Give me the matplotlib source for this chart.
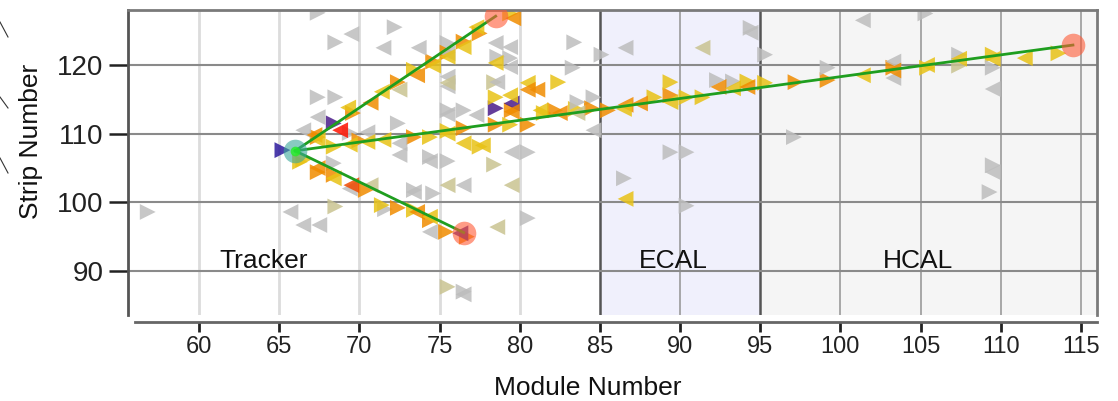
import matplotlib
matplotlib.use('Agg')
import matplotlib.pyplot as plt
from matplotlib.lines import Line2D

plt.rcParams['font.family'] = ['Liberation Sans', 'DejaVu Sans']

# hit colour codes
palette = {
    'g': '#bdbdbd',  # unassigned hits
    'o': '#c9c391',
    'y': '#e8c216',
    'n': '#f08c00',
    'r': '#f04a00',
    'R': '#ff1200',
    'p': '#4a1c8a',
    'b': '#2c1a9c',
}

# hits read out on the right-hand side of a module (drawn as ▶)
right_x = [67.4, 68.5, 72.2, 67.4, 68.5, 69.4, 75.5, 78.6, 79.4, 72.4, 75.5, 76.5, 74.4, 75.5,
           80.5, 80.5, 74.6, 68.4, 73.4, 71.6, 56.8, 76.5, 83.4, 83.3, 84.6,
           75.5, 68.5, 78.4, 78.4, 107.4,
           65.2, 68.4, 78.5,
           67.4, 69.6, 72.4, 73.4, 74.6, 75.5, 76.5, 77.5, 79.4, 78.5,
           66.5, 68.4, 70.0, 73.4, 74.4, 75.5, 76.5, 77.5, 78.5, 79.4, 80.5, 79.5, 81.5, 82.2,
           83.5, 84.5, 82.4, 85.5, 88.4, 89.4, 89.4, 90.4, 91.4, 92.3, 93.3, 94.2, 95.3,
           97.2, 99.2, 99.2, 103.3, 105.4, 107.4, 109.5, 109.5, 113.6, 83.6,
           66.3, 67.4, 68.4, 70.4, 71.4, 72.4, 73.4, 74.4, 75.4, 76.7,
           85.1, 94.4, 95.3, 89.4, 90.4, 86.5, 90.4, 97.1, 105.3, 109.5, 109.3]
right_y = [127.6, 123.3, 125.5, 115.3, 115.3, 110.1, 123.2, 121.2, 121.0, 111.5, 113.4, 113.4, 106.6, 106.0,
           107.3, 97.7, 101.3, 105.7, 101.8, 99.0, 98.6, 87.0, 123.3, 119.6, 115.3,
           87.7, 99.4, 105.5, 117.5, 119.9,
           107.6, 111.5, 113.7,
           109.5, 113.0, 117.5, 119.3, 120.5, 121.8, 123.4, 124.6, 127.5, 115.3,
           106.2, 108.1, 109.0, 109.5, 109.5, 110.4, 110.8, 108.1, 111.3, 111.3, 111.3, 113.4, 113.0, 113.4,
           113.6, 113.7, 117.5, 113.4, 115.3, 115.6, 117.5, 115.3, 115.3, 117.8, 117.6, 117.6, 117.4,
           117.5, 117.8, 119.6, 119.6, 119.6, 121.5, 121.5, 119.6, 121.7, 114.6,
           105.9, 104.4, 104.0, 101.8, 99.6, 99.2, 98.9, 97.4, 95.7, 95.0,
           121.5, 125.4, 121.5, 107.3, 107.3, 103.5, 99.5, 109.5, 127.5, 105.4, 101.5]
right_c = list('gggggggggggggg' 'ggggggggggg'
               'ooooo'
               'bpp'
               'nnnynnnnyy'
               'yynnyynynynnyn'
               'ynynynyyyggyy'
               'nngnygygyg'
               'ynnnynynnn'
               'ggggggggggg')

# hits read out on the left-hand side of a module (drawn as ◀)
left_x = [69.5, 71.5, 67.4, 66.5, 70.5, 73.7, 75.5, 75.5, 75.5, 78.6, 78.5, 79.4, 79.4, 72.5,
          77.3, 75.5, 74.4, 79.5, 76.5, 73.4, 65.7, 66.5, 67.5, 69.4, 74.4, 76.5, 86.6, 84.6,
          101.4, 103.3, 103.3, 109.5, 109.5, 94.4, 72.5,
          72.5, 75.5, 75.5, 79.5, 78.6, 70.7, 91.4, 83.6,
          68.8, 69.5, 79.5, 76.3,
          67.2, 69.3, 70.7, 71.4, 73.6, 74.6, 75.5, 76.5, 77.3, 79.6, 78.5, 79.4, 80.5, 80.5,
          67.4, 69.4, 70.5, 71.5, 75.5, 76.5, 77.7, 79.5, 81.1, 81.3, 82.5, 86.6, 87.5, 86.5,
          89.4, 92.4, 93.3, 94.2, 101.4, 105.4, 107.4, 109.5, 111.5, 103.3,
          67.4, 68.4, 73.6, 74.4, 86.6]
left_y = [124.5, 122.5, 112.4, 110.5, 110.2, 122.5, 121.7, 118.3, 116.9, 117.5, 123.2, 122.6, 119.7, 108.6,
          112.7, 112.8, 106.0, 107.3, 102.5, 101.5, 98.6, 96.7, 96.7, 102.0, 95.7, 86.6, 122.5, 110.5,
          126.5, 120.5, 118.1, 104.4, 116.5, 124.7, 106.9,
          116.4, 117.4, 102.5, 102.5, 96.4, 102.5, 122.5, 113.0,
          110.5, 102.5, 114.4, 95.5,
          109.8, 113.8, 114.5, 116.1, 118.5, 119.9, 121.2, 122.6, 125.5, 126.8, 120.3, 115.6, 117.4, 116.4,
          109.1, 108.4, 108.8, 109.1, 110.0, 108.6, 108.3, 113.2, 116.4, 113.4, 113.0, 114.2, 114.4, 113.6,
          114.6, 116.8, 116.6, 116.8, 118.5, 120.0, 120.9, 120.9, 121.0, 119.2,
          105.0, 103.5, 98.6, 97.9, 100.5]
left_c = list('gggggggggggggg' 'gggggggggggggg'
              'ggggggg'
              'oooooooo'
              'Rrpp'
              'nynynyyyynyyyn'
              'yyyyyyynnynnny'
              'ynynyyyyyn'
              'nynyy')

# reconstructed tracks: common vertex and three end points
vertex = (66.0, 107.5)
end_x = [78.5, 76.5, 114.5]
end_y = [127.1, 95.6, 122.9]

# detector regions
ecal = (85, 95)
hcal = (95, 116)

fig = plt.figure(figsize=(11.18, 4.01), dpi=100)
ax = fig.add_axes([0.1145, 0.2145, 0.8667, 0.7605])
ax.set_xlim(55.57, 116.0)
ax.set_ylim(83.6, 128.0)

ax.axvspan(*ecal, color='#f0f0fc', zorder=0)
ax.axvspan(*hcal, color='#f5f5f5', zorder=0)

for gx in range(60, 85, 5):
    ax.axvline(gx, color='#dcdcdc', lw=2, zorder=0.5)
for gx in [90, 100, 105, 110, 115]:
    ax.axvline(gx, color='#9a9a9a', lw=1.2, zorder=0.5)
for gx in [85, 95]:
    ax.axvline(gx, color='#555555', lw=1.8, zorder=0.6)
for gy in [90, 100, 110, 120]:
    ax.axhline(gy, color='#8a8a8a', lw=1.5, zorder=0.6)

ax.scatter(right_x, right_y, marker='>', s=130, c=[palette[k] for k in right_c],
           edgecolors='none', alpha=0.85, zorder=2)
ax.scatter(left_x, left_y, marker='<', s=130, c=[palette[k] for k in left_c],
           edgecolors='none', alpha=0.85, zorder=2)

for ex, ey in zip(end_x, end_y):
    ax.plot([vertex[0], ex], [vertex[1], ey], color='#1f9e1f', lw=2, zorder=3)
ax.plot(end_x, end_y, 'o', ms=17, color='#ff5a36', alpha=0.6, mec='none', zorder=4)
ax.plot(*vertex, 'o', ms=17, color='#3aa89a', alpha=0.6, mec='none', zorder=4)
ax.plot(*vertex, 'o', ms=7, color='#22ee22', alpha=0.8, mec='none', zorder=5)

for name, cx in [('Tracker', 64.05), ('ECAL', 89.6), ('HCAL', 104.85)]:
    ax.text(cx, 90.45, name, fontsize=19, ha='center', va='baseline', color='#111111')

ax.set_xticks(range(60, 116, 5))
ax.set_yticks([90, 100, 110, 120])
ax.tick_params(axis='x', length=7, width=2, color='#222222', pad=3, labelsize=17,
               labelcolor='#222222')
ax.tick_params(axis='y', length=14, width=1.8, color='#222222', pad=3.5, labelsize=20,
               labelcolor='#222222')

ax.spines['bottom'].set_position(('outward', 5))
ax.spines['bottom'].set_bounds(56, 116)
ax.spines['bottom'].set_color('#666666')
ax.spines['bottom'].set_linewidth(2)
ax.spines['left'].set_color('#555555')
ax.spines['left'].set_linewidth(2)
for side in ['top', 'right']:
    ax.spines[side].set_color('#7a7a7a')
    ax.spines[side].set_linewidth(2)

fig.text(0.028, 0.648, 'Strip Number', rotation=90, fontsize=19, ha='center', va='center',
         color='#111111')
fig.text(0.526, 0.032, 'Module Number', fontsize=19, ha='center', va='center',
         color='#111111')

# stray marks along the left edge
for y0, y1 in [(22, 37), (97, 108), (158, 173)]:
    fig.add_artist(Line2D([0, 8 / 1118], [1 - y0 / 401, 1 - y1 / 401],
                          transform=fig.transFigure, color='#333333', lw=0.8))

fig.savefig('out.png', dpi=100)
